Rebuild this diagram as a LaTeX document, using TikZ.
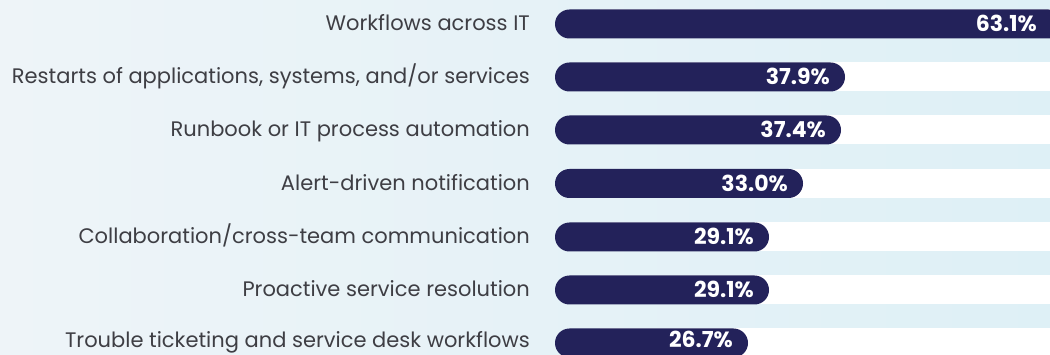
\documentclass[tikz,border=0pt]{standalone}
\usepackage{fontspec}
\setmainfont{Poppins}
\definecolor{barnavy}{RGB}{35,34,90}
\definecolor{labelgray}{RGB}{62,62,68}
\definecolor{bgblue}{RGB}{222,240,246}
\definecolor{bglight}{RGB}{238,244,248}
\tikzset{
  lbl/.style={anchor=base east, text=labelgray, inner sep=0pt,
    font=\fontsize{21}{23}\selectfont},
  val/.style={anchor=base east, text=white, inner sep=0pt,
    font=\fontsize{22}{24}\selectfont\bfseries},
  bar/.style={fill=barnavy, rounded corners=14.5pt},
  track/.style={fill=white},
}
\begin{document}
\begin{tikzpicture}[x=1pt, y=-1pt]
  \clip (0,0) rectangle (1050,355);
  \shade[left color=bglight, right color=bgblue] (0,0) rectangle (1050,355);

  % Tracks
  \fill[track] (600,9.5) rectangle (1050,38.5);
  \fill[track] (600,62.5) rectangle (1050,91.5);
  \fill[track] (600,115.5) rectangle (1050,144.5);
  \fill[track] (600,169) rectangle (1050,198);
  \fill[track] (600,222.5) rectangle (1050,251.5);
  \fill[track] (600,275.5) rectangle (1050,304.5);
  \fill[track] (600,328.5) rectangle (1050,357.5);

  % Bars
  \fill[bar] (555,9.5) rectangle (1063,38.5);
  \fill[bar] (555,62.5) rectangle (845,91.5);
  \fill[bar] (555,115.5) rectangle (841,144.5);
  \fill[bar] (555,169) rectangle (803,198);
  \fill[bar] (555,222.5) rectangle (769,251.5);
  \fill[bar] (555,275.5) rectangle (769,304.5);
  \fill[bar] (555,328.5) rectangle (748,357.5);

  % Labels
  \node[lbl] (l1) at (530,31) {Workflows across IT};
  \node[lbl] (l2) at (530,84) {Restarts of applications, systems, and/or services};
  \node[lbl] (l3) at (530,137) {Runbook or IT process automation};
  \node[lbl] (l4) at (530,190.5) {Alert-driven notification};
  \node[lbl] (l5) at (530,244) {Collaboration/cross-team communication};
  \node[lbl] (l6) at (530,297) {Proactive service resolution};
  \node[lbl] (l7) at (530,348) {Trouble ticketing and service desk workflows};

  % Values
  \node[val] (v1) at (1037,32) {63.1\%};
  \node[val] (v2) at (830,85) {37.9\%};
  \node[val] (v3) at (826,138) {37.4\%};
  \node[val] (v4) at (788,191.5) {33.0\%};
  \node[val] (v5) at (754,245) {29.1\%};
  \node[val] (v6) at (754,298) {29.1\%};
  \node[val] (v7) at (733,348) {26.7\%};
\end{tikzpicture}
\end{document}
